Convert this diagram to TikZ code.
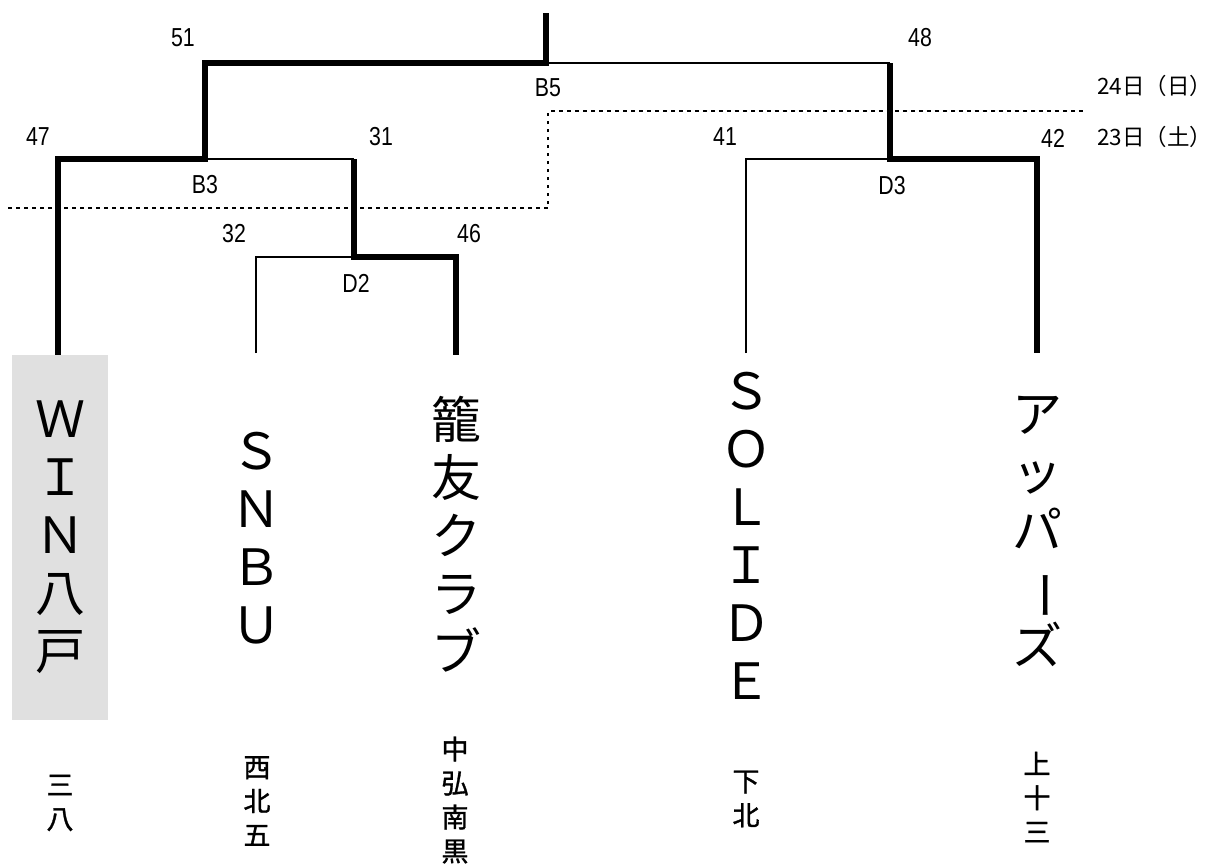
\documentclass[tikz,border=0pt]{standalone}
\usepackage{fontspec}
\usepackage{graphicx}
\newfontfamily\jpfont{Noto Sans CJK JP}
\newfontfamily\jpheavy[FakeBold=1.2]{Noto Sans CJK JP}
\newfontfamily\latfont{Liberation Sans}
\newcommand\narrownum[1]{\scalebox{0.82}[1]{#1}}
\newcommand\vbar{\rotatebox[origin=c]{-90}{ー}}
\begin{document}
\begin{tikzpicture}[x=1pt,y=-1pt,
  win/.style={line width=6.5pt, line join=miter},
  lose/.style={line width=1.8pt},
  dayline/.style={line width=1.7pt, dash pattern=on 3.5pt off 4.5pt},
  num/.style={font=\latfont\fontsize{26}{26}\selectfont, inner sep=0pt},
  team/.style={font=\jpfont\fontsize{50}{58}\selectfont, align=center, inner sep=0pt},
  area/.style={font=\jpheavy\fontsize{27}{34}\selectfont, align=center, inner sep=0pt},
  day/.style={font=\jpfont\fontsize{22.5}{22.5}\selectfont, inner sep=0pt, anchor=west},
  winbox/.style={fill=black!12, draw=none, minimum width=96pt, minimum height=365pt, inner sep=0pt},
]
\useasboundingbox (0,0) rectangle (1212,863);

% junction coordinates
\coordinate (top) at (546,13);
\coordinate (fin) at (546,63);
\coordinate (sfL) at (205,63);
\coordinate (sfR) at (890,63);
\coordinate (b3L) at (58,159);
\coordinate (b3M) at (205,159);
\coordinate (b3R) at (354,159);
\coordinate (d2L) at (256,257);
\coordinate (d2M) at (354,257);
\coordinate (d2R) at (456,257);
\coordinate (d3L) at (746,159);
\coordinate (d3M) at (890,159);
\coordinate (d3R) at (1037,159);
\coordinate (e1) at (58,355);
\coordinate (e2) at (256,353);
\coordinate (e3) at (456,355);
\coordinate (e4) at (746,353);
\coordinate (e5) at (1037,353);
\coordinate (dA) at (8,208);
\coordinate (dB) at (548,208);
\coordinate (dC) at (548,111);
\coordinate (dD) at (1083,111);

% team names
\node[winbox] (t1box) at (60,537.5) {};
\node[team] (t1) at (60,537) {Ｗ\\Ｉ\\Ｎ\\八\\戸};
\node[team] (t2) at (256,538) {Ｓ\\Ｎ\\Ｂ\\Ｕ};
\node[team] (t3) at (456,534) {籠\\友\\ク\\ラ\\ブ};
\node[team] (t4) at (746,536) {Ｓ\\Ｏ\\Ｌ\\Ｉ\\Ｄ\\Ｅ};
\node[team] (t5) at (1037,531) {ア\\ッ\\パ\\\vbar\\ズ};

% areas
\node[area] (a1) at (60,803) {三\\八};
\node[area] (a2) at (257,801) {西\\北\\五};
\node[area] (a3) at (455,800) {中\\弘\\南\\黒};
\node[area] (a4) at (746,799) {下\\北};
\node[area] (a5) at (1037,797) {上\\十\\三};

% day separator
\draw[dayline] (dA) -- (dB) -- (dC) -- (dD);
\node[day] (day24) at (1097,86) {24日（日）};
\node[day] (day23) at (1097,137) {23日（土）};

% bracket lines: losers (thin)
\draw[lose] (fin) -- (sfR);
\draw[lose] (b3M) -- (b3R);
\draw[lose] (e2) -- (d2L) -- (d2M);
\draw[lose] (e4) -- (d3L) -- (d3M);
% winners (thick)
\draw[win] (top) -- (fin) -- (sfL) -- (b3M) -- (b3L) -- (e1);
\draw[win] (b3R) -- (d2M) -- (d2R) -- (e3);
\draw[win] (sfR) -- (d3M) -- (d3R) -- (e5);

% score and match labels
\node[num] (n51) at (183,38) {\narrownum{51}};
\node[num] (n48) at (920,38) {\narrownum{48}};
\node[num] (mB5) at (548,88) {\narrownum{B5}};
\node[num] (n47) at (38,137) {\narrownum{47}};
\node[num] (n31) at (381,137) {\narrownum{31}};
\node[num] (mB3) at (205,185) {\narrownum{B3}};
\node[num] (n32) at (234,234) {\narrownum{32}};
\node[num] (n46) at (469,234) {\narrownum{46}};
\node[num] (mD2) at (356,283) {\narrownum{D2}};
\node[num] (n41) at (725,137) {\narrownum{41}};
\node[num] (n42) at (1053,138) {\narrownum{42}};
\node[num] (mD3) at (892,186) {\narrownum{D3}};
\end{tikzpicture}
\end{document}
